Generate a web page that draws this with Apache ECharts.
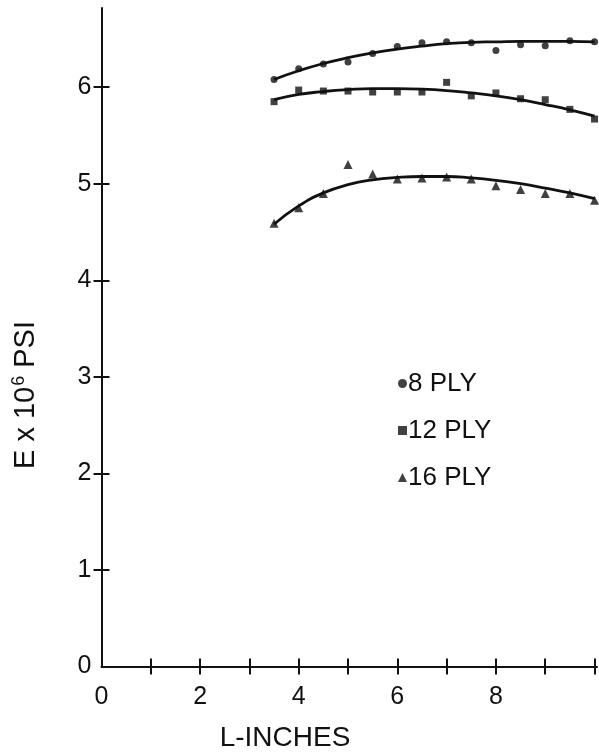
<!DOCTYPE html>
<html>
<head>
<meta charset="utf-8">
<script src="https://cdn.jsdelivr.net/npm/echarts@6/dist/echarts.min.js"></script>
<style>
  html, body { margin: 0; padding: 0; background: #fff; }
  #chart { width: 599px; height: 753px; }
</style>
</head>
<body>
<div id="chart"></div>
<script>
// Specimen length (inches) at which modulus was measured
const lengths = [3.5, 4, 4.5, 5, 5.5, 6, 6.5, 7, 7.5, 8, 8.5, 9, 9.5, 10];

// Measured modulus E (x 10^6 psi)
const ply8  = [6.08, 6.19, 6.24, 6.26, 6.35, 6.42, 6.46, 6.47, 6.46, 6.38, 6.44, 6.43, 6.48, 6.47];
const ply12 = [5.85, 5.97, 5.96, 5.96, 5.95, 5.95, 5.95, 6.05, 5.91, 5.94, 5.88, 5.87, 5.77, 5.67];
const ply16 = [4.59, 4.75, 4.90, 5.20, 5.10, 5.05, 5.06, 5.07, 5.05, 4.98, 4.94, 4.90, 4.90, 4.83];

// Faired curves through each set of points
const fit8  = [6.08, 6.17, 6.245, 6.305, 6.355, 6.395, 6.425, 6.45, 6.465, 6.47, 6.475, 6.475, 6.475, 6.47];
const fit12 = [5.87, 5.925, 5.955, 5.975, 5.985, 5.985, 5.98, 5.965, 5.94, 5.91, 5.87, 5.82, 5.765, 5.70];
const fit16 = [4.58, 4.77, 4.905, 4.99, 5.04, 5.065, 5.075, 5.075, 5.06, 5.035, 5.00, 4.955, 4.905, 4.845];

// Axis ticks and labels
const xTicks = [1, 2, 3, 4, 5, 6, 7, 8, 9, 10];
const xLabels = [0, 2, 4, 6, 8];
const yTicks = [1, 2, 3, 4, 5, 6];
const yLabels = [0, 1, 2, 3, 4, 5, 6];

const seriesNames = ['8 PLY', '12 PLY', '16 PLY'];

const FONT = '"Liberation Sans", "DejaVu Sans", sans-serif';
const INK = '#111';

const pairs = (xs, ys) => xs.map((x, i) => [x, ys[i]]);

const chart = echarts.init(document.getElementById('chart'), null, { renderer: 'canvas' });

const xBase = {
  type: 'value', min: 0, max: 10.05, interval: 1,
  splitLine: { show: false }
};
const yBase = {
  type: 'value', min: 0, max: 6.82, interval: 1,
  splitLine: { show: false }
};

function scatter(name, data, symbol, size) {
  return {
    name, type: 'scatter', data, symbol, symbolSize: size,
    itemStyle: { color: INK }, z: 3, silent: true
  };
}
function curve(data) {
  return {
    type: 'line', data, smooth: true, showSymbol: false, symbol: 'none',
    lineStyle: { color: INK, width: 2.8 }, z: 2, silent: true
  };
}

chart.setOption({
  animation: false,
  backgroundColor: '#fff',
  grid: { left: 101.5, right: 2, top: 8, bottom: 86.5, containLabel: false },
  xAxis: [
    Object.assign({}, xBase, {
      position: 'bottom',
      axisLine: { show: true, lineStyle: { color: INK, width: 2 } },
      axisTick: { show: true, inside: false, length: 8, lineStyle: { color: INK, width: 2 }, customValues: xTicks },
      axisLabel: { show: true, margin: 18, color: INK, fontFamily: FONT, fontSize: 25, customValues: xLabels }
    }),
    Object.assign({}, xBase, {
      position: 'bottom',
      axisLine: { show: false },
      axisTick: { show: true, inside: true, length: 8, lineStyle: { color: INK, width: 2 }, customValues: xTicks },
      axisLabel: { show: false }
    })
  ],
  yAxis: [
    Object.assign({}, yBase, {
      position: 'left',
      axisLine: { show: true, lineStyle: { color: INK, width: 2 } },
      axisTick: { show: true, inside: false, length: 8, lineStyle: { color: INK, width: 2 }, customValues: yTicks },
      axisLabel: { show: true, margin: 10, color: INK, fontFamily: FONT, fontSize: 25, customValues: yLabels }
    }),
    Object.assign({}, yBase, {
      position: 'left',
      axisLine: { show: false },
      axisTick: { show: true, inside: true, length: 8, lineStyle: { color: INK, width: 2 }, customValues: yTicks },
      axisLabel: { show: false }
    })
  ],
  legend: {
    data: [
      { name: seriesNames[0], icon: 'circle' },
      { name: seriesNames[1], icon: 'rect' },
      { name: seriesNames[2], icon: 'triangle' }
    ],
    orient: 'vertical',
    left: 393, top: 363,
    itemWidth: 9, itemHeight: 9, itemGap: 16,
    selectedMode: false,
    textStyle: { color: INK, fontFamily: FONT, fontSize: 26, lineHeight: 31, padding: [0, 0, 0, -4] }
  },
  series: [
    curve(pairs(lengths, fit8)),
    curve(pairs(lengths, fit12)),
    curve(pairs(lengths, fit16)),
    scatter(seriesNames[0], pairs(lengths, ply8), 'circle', 7),
    scatter(seriesNames[1], pairs(lengths, ply12), 'rect', 7),
    scatter(seriesNames[2], pairs(lengths, ply16), 'triangle', 9)
  ],
  graphic: [
    {
      type: 'text', x: 285, y: 738,
      style: { text: 'L-INCHES', fill: INK, font: '28px ' + FONT, textAlign: 'center', textVerticalAlign: 'middle' }
    },
    {
      type: 'text', x: 26, y: 395, rotation: Math.PI / 2,
      style: {
        text: '{t|E x 10}{s|6}{t| PSI}',
        textAlign: 'center', textVerticalAlign: 'middle',
        rich: {
          t: { fill: INK, fontFamily: FONT, fontSize: 29, lineHeight: 32 },
          s: { fill: INK, fontFamily: FONT, fontSize: 18, lineHeight: 32, verticalAlign: 'top', padding: [0, 0, 12, 1] }
        }
      }
    }
  ]
});
</script>
</body>
</html>
